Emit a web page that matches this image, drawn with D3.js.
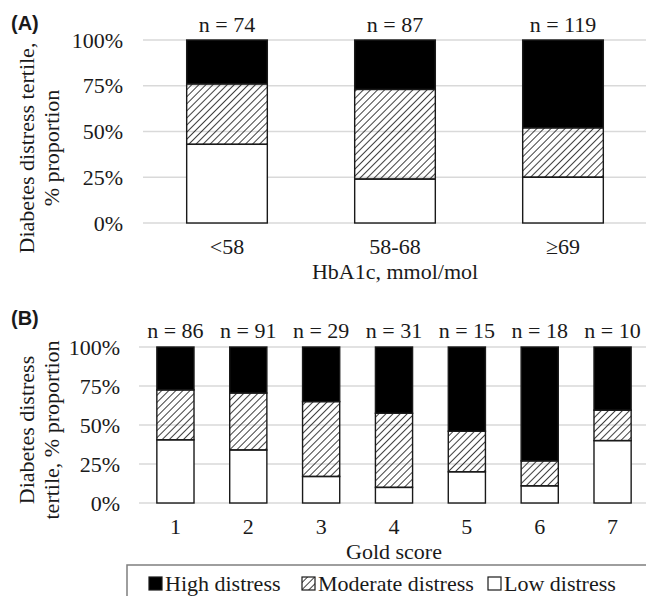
<!DOCTYPE html>
<html>
<head>
<meta charset="utf-8">
<script src="https://cdn.jsdelivr.net/npm/d3@7"></script>
<style>
  body { margin: 0; background: #fff; }
  svg { display: block; }
  text { font-family: "Liberation Serif", "Times New Roman", serif; fill: #1a1a1a; }
</style>
</head>
<body>
<div id="chart"></div>
<script>
// panel A: HbA1c groups
var hba1cCategories = ["<58", "58-68", "\u226569"];
var hba1cN = [74, 87, 119];
var hba1cLow = [43, 24, 25];
var hba1cModerate = [33, 49, 27];
var hba1cHigh = [24, 27, 48];

// panel B: Gold score
var goldCategories = ["1", "2", "3", "4", "5", "6", "7"];
var goldN = [86, 91, 29, 31, 15, 18, 10];
var goldLow = [40.5, 34, 17, 10, 20, 11, 40];
var goldModerate = [32, 36.5, 48, 47.5, 26, 16, 19.5];
var goldHigh = [27.5, 29.5, 35, 42.5, 54, 73, 40.5];

var yTicks = [0, 25, 50, 75, 100];
var seriesKeys = ["low", "moderate", "high"];
var legendLabels = ["High distress", "Moderate distress", "Low distress"];

var width = 646, height = 596;
var fontSize = '22px';

var svg = d3.select('#chart')
  .append('svg')
  .attr('width', width)
  .attr('height', height);

// diagonal hatch for the moderate group
var defs = svg.append('defs');
defs.append('pattern')
  .attr('id', 'hatch')
  .attr('patternUnits', 'userSpaceOnUse')
  .attr('width', 5)
  .attr('height', 5)
  .attr('patternTransform', 'rotate(45)')
  .append('line')
  .attr('x1', 0).attr('y1', 0)
  .attr('x2', 0).attr('y2', 5)
  .attr('stroke', '#000')
  .attr('stroke-width', 1.5);

function fillFor(key) {
  if (key == 'high') return '#000';
  if (key == 'moderate') return 'url(#hatch)';
  return '#fff';
}

function drawPanel(opts) {
  var rows = opts.categories.map(function(c, i) {
    return { cat: c, low: opts.low[i], moderate: opts.moderate[i], high: opts.high[i] };
  });

  var x = d3.scaleBand()
    .domain(opts.categories)
    .range(opts.xRange)
    .paddingInner(opts.pad)
    .paddingOuter(opts.pad / 2);

  var y = d3.scaleLinear()
    .domain([0, 100])
    .range(opts.yRange);

  var g = svg.append('g');

  // grid lines
  g.selectAll('.grid')
    .data(yTicks)
    .enter()
    .append('line')
    .attr('x1', opts.xRange[0])
    .attr('x2', width)
    .attr('y1', function(d) { return y(d); })
    .attr('y2', function(d) { return y(d); })
    .attr('stroke', '#d9d9d9')
    .attr('stroke-width', 1.5);

  // y tick labels
  g.selectAll('.ytick')
    .data(yTicks)
    .enter()
    .append('text')
    .attr('x', opts.tickX)
    .attr('y', function(d) { return y(d); })
    .attr('dy', '0.35em')
    .attr('text-anchor', 'end')
    .style('font-size', fontSize)
    .text(function(d) { return d + '%'; });

  var stacked = d3.stack().keys(seriesKeys)(rows);

  var layer = g.selectAll('.layer')
    .data(stacked)
    .enter()
    .append('g')
    .attr('fill', function(d) { return fillFor(d.key); });

  layer.selectAll('rect')
    .data(function(d) { return d; })
    .enter()
    .append('rect')
    .attr('x', function(d) { return x(d.data.cat); })
    .attr('y', function(d) { return y(d[1]); })
    .attr('width', x.bandwidth())
    .attr('height', function(d) { return y(d[0]) - y(d[1]); })
    .attr('stroke', '#1a1a1a')
    .attr('stroke-width', 1.4);

  // n = ... above bars
  g.selectAll('.nlabel')
    .data(opts.n)
    .enter()
    .append('text')
    .attr('x', function(d, i) { return x(opts.categories[i]) + x.bandwidth() / 2; })
    .attr('y', opts.nY)
    .attr('text-anchor', 'middle')
    .style('font-size', fontSize)
    .text(function(d) { return 'n = ' + d; });

  // x tick labels
  g.selectAll('.xtick')
    .data(opts.categories)
    .enter()
    .append('text')
    .attr('x', function(d) { return x(d) + x.bandwidth() / 2; })
    .attr('y', opts.xTickY)
    .attr('text-anchor', 'middle')
    .style('font-size', fontSize)
    .text(function(d) { return d; });

  // x title
  g.append('text')
    .attr('x', (opts.xRange[0] + opts.xRange[1]) / 2)
    .attr('y', opts.xTitleY)
    .attr('text-anchor', 'middle')
    .style('font-size', fontSize)
    .text(opts.xTitle);

  // y title, two lines rotated
  var yt = g.append('text')
    .attr('transform', 'translate(' + opts.yTitleX + ',' + opts.yTitleMid + ') rotate(-90)')
    .attr('text-anchor', 'middle')
    .style('font-size', fontSize);
  opts.yTitle.forEach(function(line, i) {
    yt.append('tspan')
      .attr('x', 0)
      .attr('y', i * 24.5)
      .text(line);
  });

  // panel letter
  g.append('text')
    .attr('x', 11)
    .attr('y', opts.letterY)
    .style('font-family', '"Liberation Sans", Arial, sans-serif')
    .style('font-weight', 'bold')
    .style('font-size', '20px')
    .text(opts.letter);
}

drawPanel({
  letter: '(A)', letterY: 30,
  categories: hba1cCategories, n: hba1cN,
  low: hba1cLow, moderate: hba1cModerate, high: hba1cHigh,
  xRange: [143, 647], pad: 0.52,
  yRange: [223, 40],
  tickX: 123, nY: 32, xTickY: 254, xTitleY: 279,
  xTitle: 'HbA1c, mmol/mol',
  yTitle: ['Diabetes distress tertile,', '% proportion'],
  yTitleX: 34, yTitleMid: 148
});

drawPanel({
  letter: '(B)', letterY: 325,
  categories: goldCategories, n: goldN,
  low: goldLow, moderate: goldModerate, high: goldHigh,
  xRange: [139, 649], pad: 0.49,
  yRange: [503, 347],
  tickX: 120, nY: 338, xTickY: 534, xTitleY: 559,
  xTitle: 'Gold score',
  yTitle: ['Diabetes distress', 'tertile, % proportion'],
  yTitleX: 34, yTitleMid: 430
});

// legend
var legend = svg.append('g');
legend.append('rect')
  .attr('x', 127)
  .attr('y', 565)
  .attr('width', 540)
  .attr('height', 50)
  .attr('fill', 'none')
  .attr('stroke', '#7f7f7f')
  .attr('stroke-width', 1.5);

var legendX = [149, 302, 488];
var legendFill = ['high', 'moderate', 'low'];
legendLabels.forEach(function(label, i) {
  legend.append('rect')
    .attr('x', legendX[i])
    .attr('y', 577)
    .attr('width', 13)
    .attr('height', 13)
    .attr('fill', fillFor(legendFill[i]))
    .attr('stroke', '#1a1a1a')
    .attr('stroke-width', 1.2);
  legend.append('text')
    .attr('x', legendX[i] + 16)
    .attr('y', 591)
    .style('font-size', fontSize)
    .text(label);
});
</script>
</body>
</html>
